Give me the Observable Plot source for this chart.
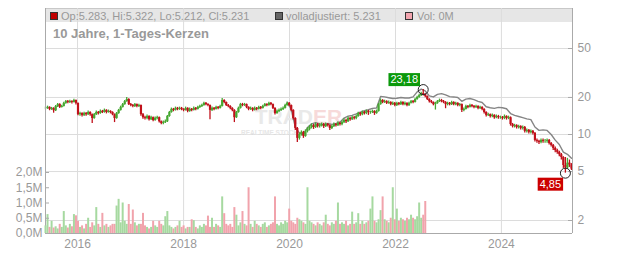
<!DOCTYPE html>
<html><head><meta charset="utf-8">
<script src="https://cdn.jsdelivr.net/npm/d3@7"></script>
<script src="https://cdn.jsdelivr.net/npm/@observablehq/plot@0.6"></script>
<style>
html,body{margin:0;padding:0;background:#fff;}
#chart{position:relative;width:632px;height:253px;overflow:hidden;font-family:"Liberation Sans",Arial,sans-serif;}
#chart svg{position:absolute;left:0;top:0;}
.lgbg{position:absolute;left:45px;top:8px;width:527px;height:14px;background:#e6e6e6;box-shadow:inset 0 1px 0 #c8c8c8;}
.lgi{position:absolute;top:9px;font-size:11px;line-height:14px;color:#999;white-space:nowrap;z-index:5;}
.sq{position:absolute;top:12px;width:6px;height:6px;border:1px solid #333;z-index:5;}
.title{position:absolute;left:53px;top:27px;font-size:13px;line-height:13px;font-weight:bold;color:#999;white-space:nowrap;z-index:5;}
</style></head><body><div id="chart"></div><script>
// ---- data ----
const firstDate = "2015-05-25";     // biweekly candles
const stepDays = 14;
const closes = [
16.3,16.6,16.0,16.3,15.6,16.9,17.5,16.6,16.9,17.9,18.5,18.2,18.5,18.2,18.9,17.9,
14.5,14.8,14.3,14.8,14.5,15.1,14.5,13.5,14.5,15.1,14.8,15.4,15.1,15.7,15.1,15.4,
15.1,14.5,13.5,14.8,15.7,16.6,17.5,18.5,19.25,17.5,17.2,16.9,17.5,16.9,17.2,14.5,
13.7,13.5,14.0,13.2,13.7,13.0,13.5,13.7,12.7,12.3,12.5,12.7,14.0,15.1,16.0,15.7,
16.3,16.0,16.3,16.0,15.7,16.3,15.4,16.0,15.7,16.3,16.0,16.6,16.9,17.2,17.9,17.5,
17.2,15.7,16.3,16.0,16.6,16.3,16.9,18.9,18.2,17.2,16.9,16.3,15.7,13.7,15.1,16.3,
17.5,17.2,17.5,16.6,16.0,16.3,15.7,16.3,16.0,16.6,16.3,16.9,17.5,17.2,17.9,17.5,
16.3,14.8,15.4,15.7,16.0,16.3,17.2,17.9,17.2,15.7,13.5,11.2,9.3,10.0,10.4,9.65,
10.6,11.0,11.4,11.8,11.4,12.05,11.6,11.8,12.05,11.6,12.05,11.8,11.2,11.6,12.05,11.8,
12.3,12.05,12.5,13.0,12.7,13.5,13.2,13.7,13.5,14.0,14.8,14.5,15.1,14.8,15.4,15.1,
15.1,15.4,14.8,15.4,17.5,18.9,18.2,18.5,17.9,18.2,17.5,17.9,17.2,17.9,17.5,18.2,
17.5,17.9,17.2,17.9,18.5,18.2,19.25,20.0,20.7,21.5,21.1,20.4,19.25,18.5,18.2,17.5,
17.9,18.5,18.9,18.5,18.2,17.5,17.9,17.5,18.2,17.5,17.9,17.2,17.5,15.7,16.0,16.9,
16.6,17.2,16.9,16.6,16.9,16.3,16.6,16.0,15.1,14.3,14.5,14.0,14.3,13.7,14.0,13.7,
13.7,13.5,14.0,13.5,13.7,12.05,11.6,11.8,11.4,11.6,11.2,11.4,10.6,10.8,10.4,10.6,
10.2,8.95,8.8,8.6,8.95,8.8,8.8,8.95,8.45,8.15,7.7,7.4,7.15,6.85,6.5,5.6,5.35,5.85,5.65,5.23];
const highs = [
16.7,17.0,16.8,16.6,16.5,17.2,17.9,17.8,17.3,18.3,18.9,18.9,19.0,18.8,19.3,19.1,
18.0,15.2,15.0,15.2,15.1,15.5,15.3,14.7,14.8,15.5,15.4,15.8,15.7,16.1,15.9,15.8,
15.6,15.3,14.7,15.1,16.0,17.0,17.9,18.9,20.0,19.5,17.9,17.5,17.9,17.7,17.6,17.4,
14.8,14.1,14.4,14.2,14.1,13.9,13.9,14.1,13.9,12.9,12.9,13.1,14.3,15.4,16.4,16.3,
16.7,16.6,16.7,16.6,16.2,16.7,16.5,16.4,16.3,16.7,16.6,17.0,17.3,17.6,18.3,18.2,
17.8,17.4,16.7,16.6,17.0,16.9,17.3,19.6,19.2,18.4,17.5,17.1,16.5,15.9,15.4,16.7,
17.9,17.9,17.9,17.7,16.8,16.7,16.5,16.7,16.6,17.0,16.9,17.3,17.9,17.8,18.3,18.2,
17.7,16.5,15.8,16.1,16.4,16.7,17.6,18.3,18.2,17.4,15.9,13.7,11.4,10.3,10.7,10.6,
10.9,11.4,11.8,12.2,12.1,12.4,12.3,12.2,12.4,12.3,12.4,12.3,12.0,11.9,12.4,12.3,
12.7,12.6,12.9,13.4,13.3,13.9,13.8,14.1,14.0,14.4,15.2,15.1,15.5,15.4,15.8,15.7,
15.5,15.8,15.6,15.8,17.9,19.4,19.2,19.0,18.8,18.7,18.5,18.4,18.2,18.3,18.2,18.6,
18.5,18.4,18.1,18.3,18.9,18.9,19.7,20.5,21.2,22.1,23.18,21.4,20.6,19.5,18.9,18.4,
18.3,18.9,19.4,19.3,18.9,18.5,18.3,18.2,18.6,18.5,18.3,18.1,17.9,17.7,16.4,17.3,
17.2,17.6,17.5,17.2,17.3,17.1,17.0,16.8,16.2,15.3,14.9,14.7,14.7,14.5,14.4,14.3,
14.1,14.0,14.4,14.2,14.1,13.9,12.3,12.1,12.0,11.9,11.8,11.7,11.6,11.1,11.0,10.9,
10.8,10.4,9.2,9.0,9.2,9.2,9.1,9.2,9.1,8.6,8.3,7.9,7.6,7.3,7.0,6.6,6.5,6.4,6.2,5.8];
const lows = [
15.9,16.0,15.6,15.7,14.9,15.4,16.6,16.3,16.4,16.7,17.6,17.8,17.9,17.7,18.0,17.4,
14.2,14.1,13.9,14.0,14.1,14.3,14.1,12.3,13.3,14.3,14.4,14.6,14.8,14.9,14.7,14.9,
14.7,14.2,12.5,13.3,14.6,15.5,16.4,17.3,18.3,17.2,16.8,16.5,16.6,16.5,16.6,14.1,
13.3,13.1,13.2,12.9,13.0,12.7,12.8,13.2,12.4,12.0,12.0,12.3,12.5,13.8,14.9,15.3,
15.5,15.6,15.7,15.6,15.3,15.5,15.0,15.2,15.3,15.5,15.6,15.8,16.3,16.6,17.0,17.1,
16.8,13.2,15.4,15.6,15.8,15.9,16.1,16.7,17.8,16.9,16.5,15.9,15.3,12.5,13.5,14.9,
16.1,16.8,16.9,16.2,15.6,15.7,15.3,15.5,15.6,15.8,15.9,16.1,16.7,16.8,17.0,17.1,
16.0,14.4,14.6,15.1,15.4,15.7,16.1,17.0,16.8,15.3,13.1,10.8,8.6,9.0,9.7,9.3,
9.5,10.3,10.7,11.1,11.0,11.2,11.3,11.3,11.5,11.2,11.4,11.5,10.8,11.0,11.4,11.5,
11.6,11.7,11.8,12.3,12.3,12.5,12.8,13.0,13.1,13.2,13.8,14.1,14.2,14.4,14.5,14.3,
14.6,14.8,14.3,14.6,15.2,17.3,17.8,17.9,17.5,17.6,17.1,17.2,16.8,16.9,17.1,17.2,
17.1,17.1,16.8,16.9,17.7,17.8,18.0,19.0,19.7,20.4,20.6,19.9,18.9,18.0,17.8,17.1,
15.8,17.6,18.2,18.1,17.8,16.2,17.1,17.1,17.2,17.1,17.1,16.8,16.8,15.1,15.3,15.8,
16.2,16.4,16.5,16.2,16.3,15.9,16.0,15.6,14.7,13.9,14.0,13.6,13.7,13.3,13.4,13.3,
13.3,13.1,13.2,13.1,13.2,11.7,11.3,11.3,11.1,11.1,10.9,10.9,10.3,10.3,10.1,10.1,
9.9,8.7,8.5,8.3,8.4,8.5,8.5,8.5,8.2,7.9,7.4,7.1,6.9,6.6,6.2,5.3,4.85,5.2,5.4,5.1];
// "volladjustiert" line, every second candle from candle #119 on
const adjStart = 119;
const adjusted = [
18.3,16.0,11.5,10.3,10.0,11.4,12.2,12.5,12.2,12.0,12.3,12.1,12.3,12.6,13.6,14.1,14.3,14.7,15.2,15.6,15.9,
16.3,16.4,20.4,20.2,19.9,19.6,19.7,20.0,19.8,19.8,20.2,22.2,23.4,22.6,20.6,20.2,21.2,21.5,21.0,20.3,20.2,20.0,18.6,19.4,19.6,19.2,18.6,18.2,16.8,16.5,16.3,16.6,
16.5,16.2,14.8,14.3,14.0,13.7,13.4,13.2,11.5,10.8,10.9,10.8,10.0,9.0,8.3,7.2,6.9,6.4];
// volume (millions), aligned with the first candles
const volumes = [
0.25,0.62,0.2,0.4,0.18,0.22,0.15,0.3,0.2,0.72,0.25,0.18,0.3,0.22,0.62,0.58,
0.4,0.2,0.25,0.15,0.3,0.5,0.2,0.35,0.25,0.85,0.3,0.2,0.66,0.25,0.3,0.2,
0.25,0.3,0.3,0.9,1.12,0.35,1.0,0.4,0.3,0.95,0.3,0.77,0.35,0.25,0.3,0.3,
0.66,0.25,0.2,0.15,0.2,0.4,0.25,0.2,0.4,0.3,0.25,0.55,0.72,0.25,0.2,0.15,
0.2,0.25,0.4,0.2,0.25,0.15,0.2,0.2,0.45,0.42,0.2,0.15,0.25,0.2,0.3,0.25,
0.57,0.2,0.5,0.2,0.3,0.25,0.2,1.2,0.65,0.3,0.25,0.3,0.2,0.85,0.6,0.25,
0.35,0.72,0.3,0.25,1.5,0.3,0.2,0.4,0.3,0.25,0.2,0.3,0.35,0.2,0.25,0.3,
0.35,1.2,0.3,0.25,0.35,0.3,0.4,0.35,0.8,0.4,0.35,0.3,0.5,0.45,0.4,0.35,
0.3,1.5,0.4,0.35,0.3,0.25,0.35,0.3,0.25,0.35,0.6,0.3,0.25,0.35,0.3,0.4,
1.0,0.3,0.35,0.3,0.4,0.25,0.3,0.7,0.3,0.35,0.65,0.3,0.4,0.3,0.35,0.4,
0.8,1.2,0.4,0.35,0.45,0.75,1.2,0.45,0.4,0.35,0.5,1.5,0.45,0.8,0.4,0.5,
0.45,0.4,0.5,0.45,0.6,0.5,0.45,0.55,1.0,0.5,0.6,1.05];
const priceTicks = [2, 5, 10, 20, 50];
const volTicks = [0, 0.5, 1.0, 1.5, 2.0];
const yearTicks = [2016, 2018, 2020, 2022, 2024];
const xRange = ["2015-05-25", "2025-05-05"];
const legendItems = [
  {text: "Op:5.283, Hi:5.322, Lo:5.212, Cl:5.231", color: "#c00000"},
  {text: "volladjustiert: 5.231", color: "#666666"},
  {text: "Vol: 0M", color: "#f2a5af"}
];
const titleText = "10 Jahre, 1-Tages-Kerzen";

// ---- styles ----
const GREEN = "#46a832", RED = "#c0101a", VGREEN = "#a6d9a0", VPINK = "#f1a3ac";
const FONT = "'Liberation Sans', Arial, sans-serif";

// ---- tables ----
const t0 = new Date(firstDate + "T00:00:00Z");
const dates = closes.map((_, j) => d3.utcDay.offset(t0, stepDays * j));
const candles = closes.map((c, j) => ({date: dates[j], open: j ? closes[j - 1] : c, close: c, high: highs[j], low: lows[j]}));
candles.forEach(d => d.color = d.close >= d.open ? GREEN : RED);
const adjRows = adjusted.map((v, k) => ({date: dates[adjStart + 2 * k], value: v}));
const volRows = volumes.map((v, j) => ({date: dates[j], vol: v, color: candles[j].color === GREEN ? VGREEN : VPINK}));
const yearDates = yearTicks.map(y => new Date(Date.UTC(y, 0, 1)));
const xDomain = xRange.map(s => new Date(s + "T00:00:00Z"));
const maxC = d3.greatest(candles, d => d.high), minC = d3.least(candles, d => d.low);
const fmtDe = v => v.toFixed(2).replace(".", ",");
const maxPt = {date: maxC.date, value: maxC.high, label: fmtDe(maxC.high)};
const minPt = {date: minC.date, value: minC.low, label: fmtDe(minC.low)};

const common = {width: 632, height: 253, marginLeft: 45, marginRight: 60, marginBottom: 20};
const style = {background: "transparent", fontFamily: FONT, fontSize: "12px", color: "#999", overflow: "visible"};

const pricePlot = Plot.plot({
  ...common, marginTop: 8, style,
  x: {type: "utc", domain: xDomain},
  y: {type: "log", domain: [2, 50], range: [220, 48], axis: null},
  color: {type: "identity"},
  marks: [
    Plot.gridX(yearDates, {stroke: "#dcdcdc", strokeOpacity: 1}),
    Plot.gridY(priceTicks, {stroke: "#dcdcdc", strokeOpacity: 1}),
    Plot.text(["TRAD"], {frameAnchor: "middle", dx: 4, dy: -4, textAnchor: "end", fontSize: 21, fontWeight: "bold", fill: "#e9e9e9"}),
    Plot.text(["ER"], {frameAnchor: "middle", dx: 4, dy: -4, textAnchor: "start", fontSize: 21, fontWeight: "bold", fill: "#f7dada"}),
    Plot.text(["REALTIME STOCK"], {frameAnchor: "middle", dx: -68, dy: 12, textAnchor: "start", fontSize: 6.5, fontWeight: "bold", fill: "#e6e6e6"}),
    Plot.line(adjRows, {x: "date", y: "value", stroke: "#858585", strokeWidth: 1.4}),
    Plot.ruleX(candles, {x: "date", y1: "low", y2: "high", stroke: "color", strokeWidth: 1.3}),
    Plot.ruleX(candles, {x: "date", y1: "open", y2: "close", stroke: "color", strokeWidth: 2.2}),
    Plot.ruleX(xDomain, {stroke: "#aaa"}),
    Plot.tickY(priceTicks, {y: d => d, stroke: "#aaa", insetLeft: 523}),
    Plot.text(priceTicks, {y: d => d, text: d => String(d), frameAnchor: "right", dx: 5, textAnchor: "start", fill: "#999", fontSize: 12}),
    Plot.axisX(yearDates, {anchor: "bottom", tickSize: 0, tickPadding: 6, tickFormat: d3.utcFormat("%Y"), label: null}),
    Plot.dot([maxPt, minPt], {x: "date", y: "value", r: 5, stroke: "#222", fill: "none", strokeWidth: 1}),
    Plot.text([maxPt], {x: "date", y: "value", text: "label", dx: -19, dy: -10, fill: "white", fontSize: 11}),
    Plot.text([minPt], {x: "date", y: "value", text: "label", dx: -15, dy: 11, fill: "white", fontSize: 11})
  ]
});

const volPlot = Plot.plot({
  ...common, marginTop: 172, style,
  x: {type: "utc", domain: xDomain, axis: null},
  y: {domain: [0, 2], range: [233, 172]},
  color: {type: "identity"},
  marks: [
    Plot.ruleX(volRows, {x: "date", y1: 0, y2: "vol", stroke: "color", strokeWidth: 2}),
    Plot.ruleY([0], {stroke: "#aaa"}),
    Plot.tickY(volTicks, {y: d => d, stroke: "#aaa", insetRight: 523}),
    Plot.axisY(volTicks, {anchor: "left", tickSize: 0, tickPadding: 3, tickFormat: d => d.toFixed(1).replace(".", ",") + "M", label: null})
  ]
});

const chart = document.getElementById("chart");
const bg = document.createElement("div"); bg.className = "lgbg"; chart.append(bg);
chart.append(pricePlot, volPlot);
const lgPos = [[50, 61], [275, 286], [405, 417]];
legendItems.forEach((it, i) => {
  const sq = document.createElement("div"); sq.className = "sq";
  sq.style.left = lgPos[i][0] + "px"; sq.style.background = it.color; chart.append(sq);
  const tx = document.createElement("div"); tx.className = "lgi";
  tx.style.left = lgPos[i][1] + "px"; tx.textContent = it.text; chart.append(tx);
});
const ti = document.createElement("div"); ti.className = "title"; ti.textContent = titleText; chart.append(ti);

const NS = "http://www.w3.org/2000/svg";
[[maxPt.label, "#0b990b"], [minPt.label, "#cc0000"]].forEach(([lab, fill]) => {
  pricePlot.querySelectorAll("text").forEach(t => {
    if (t.textContent !== lab) return;
    const b = t.getBBox();
    const r = document.createElementNS(NS, "rect");
    r.setAttribute("x", b.x - 2); r.setAttribute("y", b.y);
    r.setAttribute("width", b.width + 4); r.setAttribute("height", b.height + 1);
    r.setAttribute("fill", fill);
    const tr = t.getAttribute("transform"); if (tr) r.setAttribute("transform", tr);
    t.parentNode.insertBefore(r, t);
  });
});
</script></body></html>
